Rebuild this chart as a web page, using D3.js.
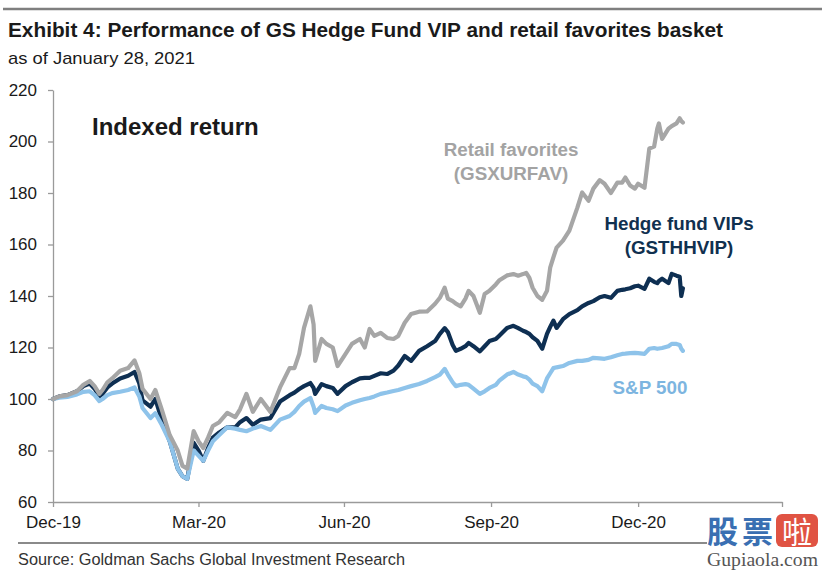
<!DOCTYPE html>
<html>
<head>
<meta charset="utf-8">
<script src="https://cdn.jsdelivr.net/npm/d3@7"></script>
<style>
  html, body { margin: 0; padding: 0; background: #fff; }
  svg { display: block; font-family: Arial, "Liberation Sans", Helvetica, sans-serif; }
</style>
</head>
<body>
<svg id="chart" width="825" height="571"></svg>
<script>
// ---------------- DATA ----------------
const dates = [
  "2019-12-31","2020-01-04","2020-01-09","2020-01-15","2020-01-19","2020-01-23","2020-01-26","2020-01-29","2020-01-31","2020-02-03",
  "2020-02-06","2020-02-11","2020-02-16","2020-02-20","2020-02-23","2020-02-25","2020-03-01","2020-03-04","2020-03-08","2020-03-13",
  "2020-03-18","2020-03-21","2020-03-24","2020-03-28","2020-03-31","2020-04-03","2020-04-06","2020-04-09","2020-04-13","2020-04-18",
  "2020-04-23","2020-04-26","2020-04-30","2020-05-04","2020-05-09","2020-05-15","2020-05-21","2020-05-27","2020-05-30","2020-06-02",
  "2020-06-05","2020-06-09","2020-06-11","2020-06-12","2020-06-16","2020-06-19","2020-06-23","2020-06-26","2020-07-01","2020-07-05",
  "2020-07-10","2020-07-13","2020-07-16","2020-07-19","2020-07-23","2020-07-27","2020-07-31","2020-08-03","2020-08-07","2020-08-11",
  "2020-08-16","2020-08-21","2020-08-26","2020-08-29","2020-09-01","2020-09-03","2020-09-06","2020-09-08","2020-09-11","2020-09-14",
  "2020-09-16","2020-09-19","2020-09-23","2020-09-26","2020-09-29","2020-10-03","2020-10-05","2020-10-10","2020-10-14","2020-10-17",
  "2020-10-20","2020-10-22","2020-10-24","2020-10-26","2020-10-29","2020-11-01","2020-11-04","2020-11-06","2020-11-08","2020-11-10",
  "2020-11-14","2020-11-18","2020-11-23","2020-11-26","2020-11-30","2020-12-03","2020-12-07","2020-12-10","2020-12-14","2020-12-18",
  "2020-12-21","2020-12-23","2020-12-26","2020-12-29","2020-12-31","2021-01-04","2021-01-07","2021-01-10","2021-01-12","2021-01-13",
  "2021-01-15","2021-01-19","2021-01-21","2021-01-24","2021-01-26","2021-01-27","2021-01-28"
];
const retailFavorites = [
  100,101,101.5,103,105.5,107,105,102,103.5,106.5,
  108,111,112,115,110,104,100,103.5,96,86,
  80,74,73,87.5,83.6,81,85,89.5,91,94.6,
  93,96,102,95,100,95,104.5,112,112,117.5,
  127.6,136,129,114.8,123.3,121.4,120,112.8,117.5,121.4,
  123.3,120,127.2,124.5,125.7,123.7,123.3,124.5,129.6,133,
  133.9,134,137,139.3,143.2,139,138,137,136,139,
  142,140,133.5,140.8,142,144.5,146,148,148.5,147.9,
  148.5,149,147,143.2,140,138.5,142,151,155,158.8,
  161.5,165.4,174.3,180.2,177,181.7,185,183.6,180,184,
  184,186,182.9,181.7,183.6,182,197.3,198,205,207,
  201,205,206,207,209,208,207.4
];
const hedgeFundVIPs = [
  100,101,101.5,103,105,106,104,101,102,104.5,
  106,108,109,110.5,106,99.5,97,100,92,83.6,
  73,70,69,83,80,76,81,85,87,89,
  89,91,92.6,90,92,92.6,99,101.5,102.5,103.9,
  105,106.2,104.3,102,105.8,105,104.3,102,105,106.5,
  108,108.2,108.2,109,110,109.7,111,113,116.7,114.8,
  118.7,120.5,122.5,125.3,127.5,126,121,118.7,119.5,120.5,
  121.8,120.5,118.5,120.5,122.5,123.3,124.5,127.6,128.4,127.5,
  126.5,126,125.3,124,122.6,119.5,125.3,128,130.4,127.6,
  131,133,134.5,136,137.3,138,139.5,140,139.3,142,
  142.4,142.6,143,143.8,144,142.8,146.7,145.5,145,145.8,
  146.7,145,148.6,147.9,147.5,140,143
];
const sp500 = [
  100,100.5,100.8,101.8,102.8,103,101.5,99.2,100,101.5,
  102.3,102.8,103.5,104.5,101,96.5,92.6,94.5,90,83.6,
  73,70,69,80,78,76,80,83.6,86,89,
  88.5,88,87.5,88.5,89.5,88,92,93.4,95,97.3,
  99,100.4,97,94.6,97.3,96.5,96,95.3,97.5,98.5,
  99.5,100,100.4,101,102,102.5,103.1,103.5,104.3,105,
  105.8,107,108.5,109.5,111.7,109.5,106.5,105,105.5,105.8,
  105.5,104,102,103,104.3,105.5,107,109.5,110.5,109.5,
  108.8,108.5,107.5,106,105,103,108,110,112,112.3,
  112.8,114,114.8,114.8,115.2,116,115.8,115.6,116.2,117,
  117.5,117.6,117.8,117.9,117.8,117.5,119.5,119.8,119.5,119.6,
  119.8,120.5,121.4,121.4,121,119.5,118.7
];
const yTickValues = [60, 80, 100, 120, 140, 160, 180, 200, 220];
const xTickDates = ["2019-12-31", "2020-03-31", "2020-06-30", "2020-09-30", "2020-12-31", "2021-03-31"];
const xTickLabels = ["Dec-19", "Mar-20", "Jun-20", "Sep-20", "Dec-20", ""];
const xDomain = ["2019-12-31", "2021-03-31"];
const yDomain = [60, 220];

// ---------------- CHART ----------------
const parse = d3.timeParse("%Y-%m-%d");
const svg = d3.select("#chart");
svg.append("rect").attr("width", 825).attr("height", 571).attr("fill", "#fff");

const x = d3.scaleTime().domain(xDomain.map(parse)).range([53, 782]);
const y = d3.scaleLinear().domain(yDomain).range([502, 90]);

// Top rule
svg.append("line").attr("x1", 3).attr("x2", 822).attr("y1", 9).attr("y2", 9)
  .attr("stroke", "#7f7f7f").attr("stroke-width", 2.5);

// Title + subtitle
svg.append("text").attr("x", 8).attr("y", 37)
  .attr("font-size", 20).attr("font-weight", "bold").attr("fill", "#1a1a1a")
  .attr("textLength", 715).attr("lengthAdjust", "spacingAndGlyphs")
  .text("Exhibit 4: Performance of GS Hedge Fund VIP and retail favorites basket");
svg.append("text").attr("x", 8).attr("y", 64)
  .attr("font-size", 17).attr("fill", "#1a1a1a")
  .attr("textLength", 187).attr("lengthAdjust", "spacingAndGlyphs")
  .text("as of January 28, 2021");

// Axes
const axisColor = "#9a9a9a";
const yAxis = svg.append("g").attr("transform", "translate(53,0)")
  .call(d3.axisLeft(y).tickValues(yTickValues).tickSizeInner(5).tickSizeOuter(0).tickPadding(11));
const xAxis = svg.append("g").attr("transform", "translate(0,502)")
  .call(d3.axisBottom(x).tickValues(xTickDates.map(parse))
    .tickFormat((d, i) => xTickLabels[i]).tickSizeInner(5).tickSizeOuter(0).tickPadding(9));
[yAxis, xAxis].forEach(g => {
  g.select(".domain").attr("stroke", axisColor).attr("stroke-width", 1.3);
  g.selectAll(".tick line").attr("stroke", axisColor).attr("stroke-width", 1.3);
  g.selectAll(".tick text").attr("fill", "#1a1a1a").attr("font-size", 17)
    .attr("font-family", "Arial, 'Liberation Sans', sans-serif");
});

// Lines
const series = [
  { name: "hedge", values: hedgeFundVIPs, color: "#0e2f52" },
  { name: "sp", values: sp500, color: "#8ec3ea" },
  { name: "retail", values: retailFavorites, color: "#a6a6a6" }
];
const line = d3.line().x(d => x(d[0])).y(d => y(d[1])).curve(d3.curveLinear);
series.forEach(s => {
  const pts = dates.map((d, i) => [parse(d), s.values[i]]);
  svg.append("path").datum(pts).attr("d", line)
    .attr("fill", "none").attr("stroke", s.color).attr("stroke-width", 4.2)
    .attr("stroke-linejoin", "round").attr("stroke-linecap", "round");
});

// In-chart labels
svg.append("text").attr("x", 92).attr("y", 135)
  .attr("font-size", 24).attr("font-weight", "bold").attr("fill", "#1a1a1a")
  .text("Indexed return");

function label(lines, cx, y0, color) {
  lines.forEach((t, i) => {
    svg.append("text").attr("x", cx).attr("y", y0 + i * 23.5)
      .attr("text-anchor", "middle").attr("font-size", 18.8).attr("font-weight", "bold")
      .attr("fill", color).text(t);
  });
}
label(["Retail favorites", "(GSXURFAV)"], 511, 156, "#a3a3a3");
label(["Hedge fund VIPs", "(GSTHHVIP)"], 679, 230, "#10304f");
label(["S&P 500"], 650, 394, "#7db5e0");

// Bottom rule + source
svg.append("line").attr("x1", 18).attr("x2", 707).attr("y1", 543).attr("y2", 543)
  .attr("stroke", "#8a8a8a").attr("stroke-width", 2);
svg.append("text").attr("x", 18).attr("y", 565)
  .attr("font-size", 16).attr("fill", "#333")
  .attr("textLength", 387).attr("lengthAdjust", "spacingAndGlyphs")
  .text("Source: Goldman Sachs Global Investment Research");

// Watermark
const wm = svg.append("g");
wm.append("text").attr("x", 707).attr("y", 543).attr("font-size", 31).attr("font-weight", "bold")
  .attr("font-family", "'Noto Sans CJK SC', sans-serif").attr("fill", "#3a6fb2").text("股");
wm.append("text").attr("x", 742).attr("y", 543).attr("font-size", 31).attr("font-weight", "bold")
  .attr("font-family", "'Noto Sans CJK SC', sans-serif").attr("fill", "#3a6fb2").text("票");
wm.append("rect").attr("x", 776).attr("y", 514).attr("width", 42).attr("height", 33).attr("rx", 6)
  .attr("fill", "#e05343");
wm.append("text").attr("x", 797).attr("y", 543).attr("text-anchor", "middle").attr("font-size", 30)
  .attr("font-family", "'Noto Sans CJK SC', sans-serif").attr("fill", "#fff").text("啦");
wm.append("text").attr("x", 707).attr("y", 566).attr("font-size", 18)
  .attr("font-family", "'Liberation Serif', 'DejaVu Serif', serif").attr("fill", "#555")
  .attr("textLength", 111).attr("lengthAdjust", "spacingAndGlyphs").text("Gupiaola.com");
</script>
</body>
</html>
